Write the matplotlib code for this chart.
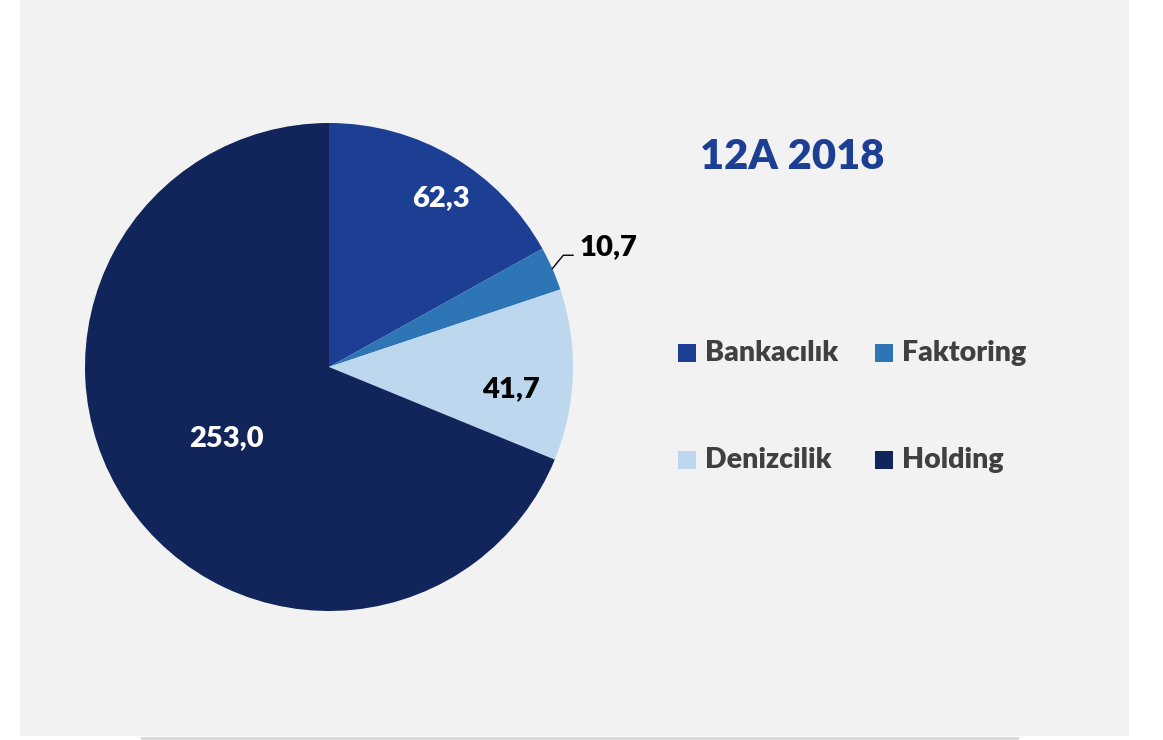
import matplotlib.pyplot as plt
import numpy as np
from matplotlib.patches import Rectangle

# data
sectors = ['Bankacılık', 'Faktoring', 'Denizcilik', 'Holding']
values = [62.3, 10.7, 41.7, 253.0]
value_labels = ['62,3', '10,7', '41,7', '253,0']
colors = ['#1c3f94', '#2e75b6', '#bdd7ee', '#12255a']
title = '12A 2018'

plt.rcParams['font.family'] = ['Lato', 'DejaVu Sans']

W, H = 1163, 740
fig = plt.figure(figsize=(W / 100, H / 100), dpi=100)
fig.patch.set_facecolor('white')

# gray panel and the thin line under it
fig.patches.append(Rectangle((20 / W, 4 / H), 1109 / W, 1 - 4 / H, transform=fig.transFigure,
                             facecolor='#f2f2f2', edgecolor='none', zorder=-5))
fig.patches.append(Rectangle((141 / W, 0), 878 / W, 3 / H, transform=fig.transFigure,
                             facecolor='#d9d9d9', edgecolor='none', zorder=-5))

# pie
cx, cy, r = 329, H - 367, 244
ax = fig.add_axes([(cx - r) / W, (cy - r) / H, 2 * r / W, 2 * r / H])
ax.set_facecolor('none')
wedges, _ = ax.pie(values, colors=colors, startangle=90, counterclock=False, radius=1,
                   wedgeprops=dict(linewidth=0))
ax.set_xlim(-1, 1)
ax.set_ylim(-1, 1)
ax.set_aspect('equal')
ax.axis('off')

label_r = [0.83, None, 0.75, 0.51]
label_dang = [-3, 0, -5, 1]
label_col = ['white', 'black', 'black', 'white']
for i, w in enumerate(wedges):
    mid = np.deg2rad((w.theta1 + w.theta2) / 2 + label_dang[i])
    if label_r[i] is None:
        x0, y0 = np.cos(mid), np.sin(mid)
        ax.plot([x0, x0 + 0.045, x0 + 0.085], [y0, y0 + 0.055, y0 + 0.055],
                color='black', lw=1, clip_on=False)
        ax.text(x0 + 0.11, y0 + 0.09, value_labels[i], ha='left', va='center',
                fontsize=21, fontweight='heavy', color=label_col[i])
    else:
        ax.text(label_r[i] * np.cos(mid), label_r[i] * np.sin(mid), value_labels[i],
                ha='center', va='center', fontsize=21, fontweight='heavy', color=label_col[i])

fig.text(792 / W, 1 - 157 / H, title, ha='center', va='center', fontsize=30,
         fontweight='heavy', color='#1c3f94')

# legend, two columns
sq = 18
mx = [678, 875]
my = [353, 460]
for i, name in enumerate(sectors):
    row, col = divmod(i, 2)
    x, y = mx[col], my[row]
    fig.patches.append(Rectangle((x / W, (H - y - sq / 2) / H), sq / W, sq / H,
                                 transform=fig.transFigure, facecolor=colors[i],
                                 edgecolor='none'))
    fig.text((x + 27) / W, (H - y) / H, name, ha='left', va='center', fontsize=20.5,
             fontweight='heavy', color='#404040')

fig.savefig('out.png', dpi=100)
